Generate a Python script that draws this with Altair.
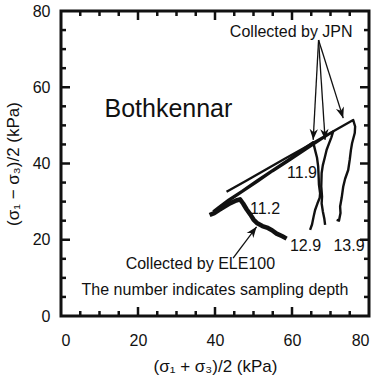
import math
import altair as alt
import pandas as pd

# ---------------- data ----------------
# ELE100 sample (11.2 m)
ele_x = [58.6, 57.5, 56.0, 54.8, 53.5, 52.3, 51.0, 50.0, 49.2, 48.2, 47.3, 46.5, 45.5, 44.0, 42.5, 41.0, 39.8, 38.6]
ele_y = [20.3, 20.9, 21.6, 22.5, 23.2, 23.6, 24.3, 25.3, 26.6, 28.0, 29.5, 30.6, 30.3, 29.6, 28.7, 27.8, 27.0, 26.5]

# JPN samples
j119_x = [64.7, 65.2, 65.6, 66.0, 66.6, 67.2, 67.3, 67.0, 66.9, 66.8, 66.5, 66.0, 65.5, 62.5, 59.0, 55.0, 51.0, 47.0, 43.5, 41.0, 39.5]
j119_y = [22.6, 24.0, 26.0, 27.8, 29.5, 31.0, 32.2, 34.5, 37.0, 39.2, 41.5, 43.5, 45.6, 43.5, 41.0, 38.3, 35.6, 32.8, 30.5, 28.6, 27.4]

j129_x = [68.6, 68.4, 68.0, 67.7, 67.8, 67.6, 67.7, 68.0, 68.5, 69.0, 69.6, 70.2, 70.7, 67.0, 63.0, 59.0, 55.0, 51.0, 47.0, 44.0, 41.5]
j129_y = [23.9, 25.5, 27.5, 29.5, 31.3, 34.0, 37.5, 39.5, 41.5, 43.6, 45.2, 46.8, 48.4, 46.0, 43.3, 40.6, 38.0, 35.2, 32.5, 30.5, 28.8]

j139_x = [71.6, 72.2, 72.6, 72.5, 72.9, 73.3, 73.8, 74.6, 75.0, 75.3, 75.6, 76.3, 76.4, 75.9, 72.0, 68.0, 63.0, 58.0, 53.0, 48.0, 43.0]
j139_y = [25.2, 25.0, 27.0, 28.7, 31.0, 33.9, 36.0, 38.3, 41.0, 43.5, 45.3, 48.0, 49.7, 51.4, 49.2, 46.9, 44.0, 41.2, 38.3, 35.4, 32.6]

# arrows: tail -> tip
arrow_x1 = [66.9, 66.9, 66.9, 44.7]
arrow_y1 = [72.4, 72.4, 72.4, 15.2]
arrow_x2 = [65.5, 68.6, 73.3, 50.8]
arrow_y2 = [46.2, 46.2, 51.9, 23.4]

# annotations
note_text = ["Collected by JPN", "11.9", "11.2", "12.9", "13.9",
             "Collected by ELE100", "The number indicates sampling depth"]
note_x = [59.8, 62.6, 53.0, 63.5, 74.8, 36.2, 40.0]
note_y = [74.4, 37.5, 28.1, 18.4, 18.4, 13.6, 6.7]
site_text = ["Bothkennar"]
site_x = [27.9]
site_y = [54.3]

minor_ticks = [5, 10, 15, 25, 30, 35, 45, 50, 55, 65, 70, 75]
major_ticks = [20, 40, 60]
axis_values = [0, 20, 40, 60, 80]

# ---------------- tables ----------------
def path_df(xs, ys, name):
    return pd.DataFrame({"p": xs, "q": ys, "order": list(range(len(xs))), "sample": name})

jpn = pd.concat([path_df(j119_x, j119_y, "JPN 11.9"),
                 path_df(j129_x, j129_y, "JPN 12.9"),
                 path_df(j139_x, j139_y, "JPN 13.9")])
ele = path_df(ele_x, ele_y, "ELE100 11.2")

W, H = 308, 305
SX, SY = W / 80.0, H / 80.0
ang = [(math.degrees(math.atan2((b2 - b1) * SX, (c2 - c1) * SY))) % 360
       for b1, c1, b2, c2 in zip(arrow_x1, arrow_y1, arrow_x2, arrow_y2)]
arrows = pd.DataFrame({"x1": arrow_x1, "y1": arrow_y1, "x2": arrow_x2, "y2": arrow_y2, "ang": ang})
notes = pd.DataFrame({"t": note_text, "x": note_x, "y": note_y})
site = pd.DataFrame({"t": site_text, "x": site_x, "y": site_y})
minor = pd.DataFrame({"v": minor_ticks})
major = pd.DataFrame({"v": major_ticks})

FONT = "Liberation Sans"
xs = alt.Scale(domain=[0, 80], nice=False, zero=False)
ys = alt.Scale(domain=[0, 80], nice=False, zero=False)

XT = "(σ₁ + σ₃)/2 (kPa)"
YT = "(σ₁ − σ₃)/2 (kPa)"
xaxis = alt.Axis(values=axis_values, title=XT, grid=False, domain=False,
                 ticks=False, tickSize=0, labelPadding=16, titlePadding=10,
                 labelFontSize=16, titleFontSize=17, labelFont=FONT, titleFont=FONT,
                 titleFontWeight="normal", labelColor="#111", titleColor="#111")
yaxis = alt.Axis(values=axis_values, title=YT, grid=False, domain=False,
                 ticks=False, tickSize=0, labelPadding=11, titlePadding=10,
                 labelFontSize=16, titleFontSize=17, labelFont=FONT, titleFont=FONT,
                 titleFontWeight="normal", labelColor="#111", titleColor="#111")


def X(f):
    return alt.X(f, scale=xs, axis=xaxis, title=XT)


def Y(f):
    return alt.Y(f, scale=ys, axis=yaxis, title=YT)


jpn_layer = alt.Chart(jpn).mark_line(color="#111", strokeWidth=2.4, strokeJoin="round").encode(
    x=X("p:Q"), y=Y("q:Q"), detail="sample:N", order="order:Q",
)
ele_layer = alt.Chart(ele).mark_line(color="#111", strokeWidth=4.5, strokeJoin="round").encode(
    x=X("p:Q"), y=Y("q:Q"), order="order:Q",
)

shafts = alt.Chart(arrows).mark_rule(color="#111", strokeWidth=1.3).encode(
    x=X("x1:Q"), y=Y("y1:Q"), x2="x2:Q", y2="y2:Q",
)
heads = alt.Chart(arrows).mark_point(
    shape="M0,0L-0.38,1L0,0.7L0.38,1Z", filled=True, color="#111", size=480, opacity=1
).encode(
    x=X("x2:Q"), y=Y("y2:Q"), angle=alt.Angle("ang:Q", scale=None),
)

note_layer = alt.Chart(notes).mark_text(font=FONT, fontSize=16, color="#111",
                                        align="center", baseline="middle").encode(
    x=X("x:Q"), y=Y("y:Q"), text="t:N")
site_layer = alt.Chart(site).mark_text(font=FONT, fontSize=25, color="#111",
                                       align="center", baseline="middle").encode(
    x=X("x:Q"), y=Y("y:Q"), text="t:N")


def tick_layers(df, length):
    base = alt.Chart(df).mark_rule(color="#111", strokeWidth=2.5)
    return [
        base.encode(x=X("v:Q"), y=alt.value(H), y2=alt.value(H - length)),
        base.encode(x=X("v:Q"), y=alt.value(0), y2=alt.value(length)),
        base.encode(y=Y("v:Q"), x=alt.value(0), x2=alt.value(length)),
        base.encode(y=Y("v:Q"), x=alt.value(W), x2=alt.value(W - length)),
    ]


layers = [jpn_layer, ele_layer, shafts, heads, note_layer, site_layer] + tick_layers(minor, 5) + tick_layers(major, 9)

chart = alt.layer(*layers).properties(
    width=W, height=H,
    autosize=alt.AutoSizeParams(type="none"),
    padding={"left": 61, "top": 11, "right": 10, "bottom": 76},
    background="white",
).configure_view(stroke="#111", strokeWidth=3)

chart.save("out.html", embed_options={"renderer": "svg", "actions": False})
